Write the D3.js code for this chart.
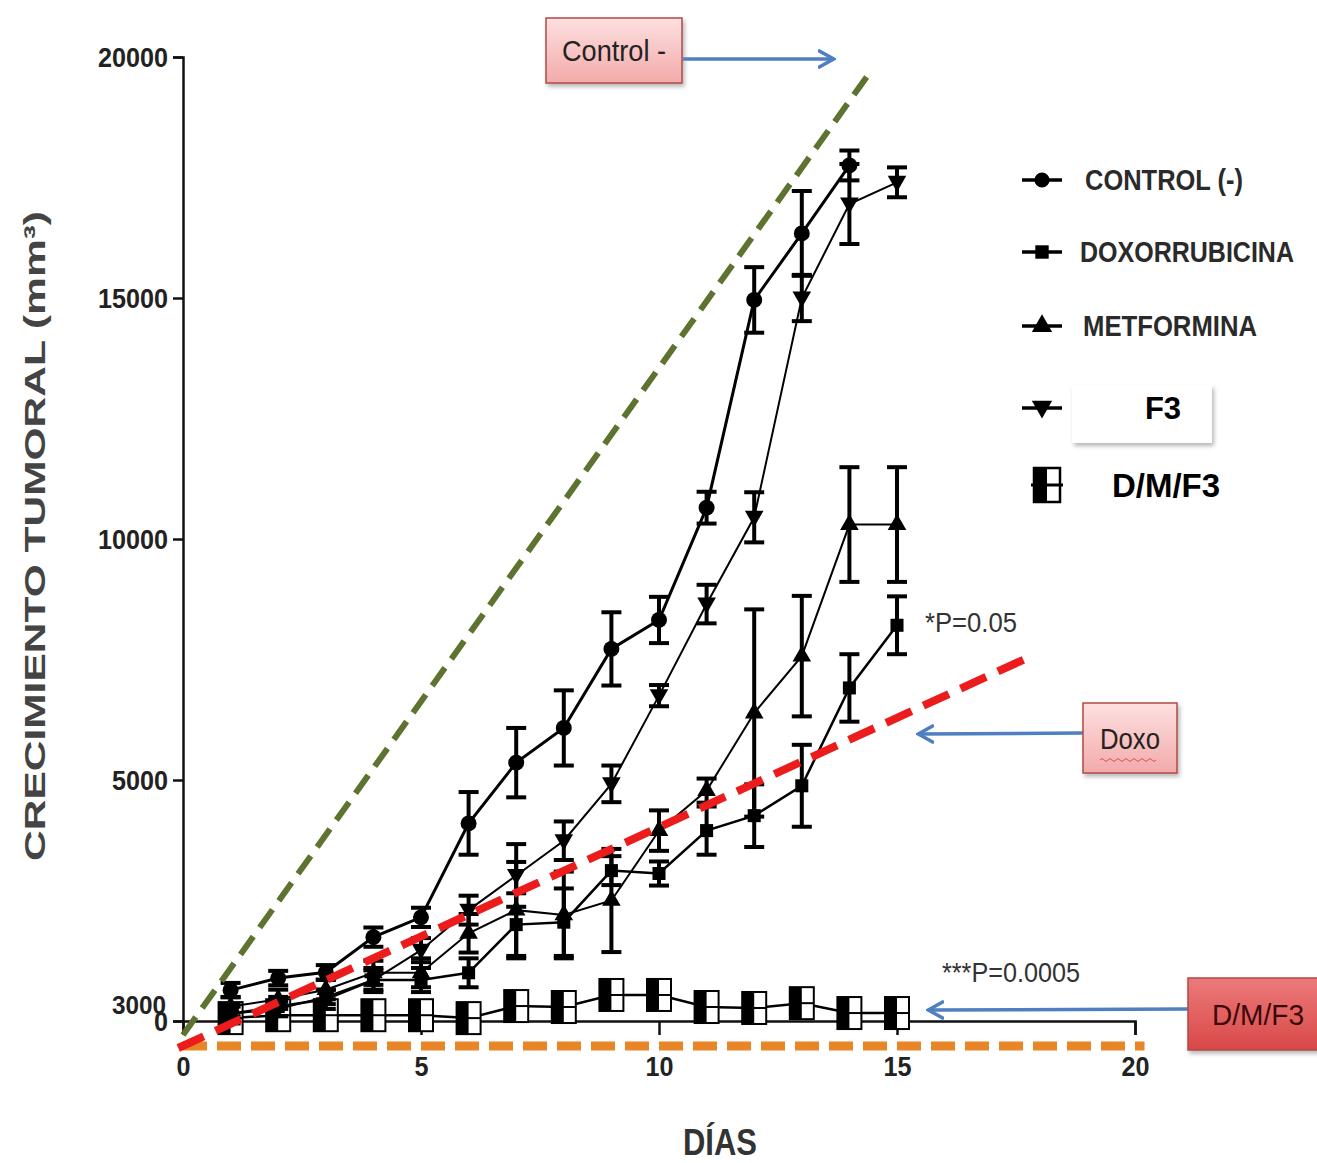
<!DOCTYPE html>
<html><head><meta charset="utf-8">
<script src="https://cdn.jsdelivr.net/npm/d3@7"></script>
<style>
body{margin:0;background:#fff;}
svg{display:block;}
.narrow{font-family:"Liberation Sans Narrow","Arial Narrow","Liberation Sans",sans-serif;font-weight:bold;}
</style></head>
<body>
<svg id="c" width="1317" height="1163"></svg>
<script>
// ---- data ----
const days = [1,2,3,4,5,6,7,8,9,10,11,12,13,14,15];
const controlDays = [1,2,3,4,5,6,7,8,9,10,11,12,13,14];
const control    = [640,890,1010,1740,2150,4100,5360,6080,7720,8320,10650,14960,16340,17750];
const controlErr = [150,150,150,200,200,650,720,780,760,480,330,680,880,310];
const doxo       = [150,300,450,850,850,1000,2000,2050,3120,3060,3950,4260,4880,6910,8210];
const doxoErr    = [200,200,200,250,250,300,650,700,300,250,500,650,850,700,600];
const metformina = [300,450,650,1000,1000,1820,2300,2200,2500,3950,4780,6390,7570,10300,10300];
const metErr     = [200,200,200,250,300,400,1000,900,1070,420,250,2150,1250,1190,1190];
const f3         = [150,250,500,850,1470,2300,3020,3740,4920,6750,8650,10450,15000,16950,17400];
const f3Err      = [150,150,150,200,250,300,650,400,380,220,400,520,480,830,310];
const dmf        = [60,120,120,120,120,60,310,290,540,540,290,270,370,165,165];
const xTicks = [0,5,10,15,20];
const yTicks = [0,5000,10000,15000,20000];
const legendLabels = ["CONTROL (-)","DOXORRUBICINA","METFORMINA","F3","D/M/F3"];
// reference trend lines [day, value]
const greenLine  = [[0,-290],[14.43,19680]];
const redLine    = [[-0.1,-560],[17.69,7510]];
const orangeLine = [[0,-520],[20.2,-520]];

const svg = d3.select("#c");
const x = d3.scaleLinear().domain([0,20]).range([183,1135]);
const y = d3.scaleLinear().domain([0,20000]).range([1021,57]);

// axes
const yAxis = svg.append("g").attr("transform","translate(183,0)")
  .call(d3.axisLeft(y).tickValues(yTicks).tickSize(10).tickPadding(5).tickFormat(d=>String(d)));
const xAxis = svg.append("g").attr("transform","translate(0,1021)")
  .call(d3.axisBottom(x).tickValues(xTicks).tickSize(14).tickPadding(21).tickFormat(d=>String(d)));
[yAxis,xAxis].forEach(g=>{
  g.select(".domain").attr("stroke","#111").attr("stroke-width",2.5);
  g.selectAll(".tick line").attr("stroke","#111").attr("stroke-width",2.5);
  g.selectAll(".tick text").attr("class","narrow").attr("fill","#222").style("font-size","28px")
    .attr("textLength",d=>String(d).length*14).attr("lengthAdjust","spacingAndGlyphs");
});
yAxis.selectAll(".tick text").attr("dy","0.35em");
// stray label near the origin
svg.append("text").attr("class","narrow").attr("x",166).attr("y",y(330)).attr("dy","0.35em")
  .attr("text-anchor","end").attr("fill","#222").style("font-size","26px")
  .attr("textLength",54).attr("lengthAdjust","spacingAndGlyphs").text("3000");

// series drawing helpers
const line = d3.line().x(d=>x(d[0])).y(d=>y(d[1]));
function errorBars(ds, vals, errs){
  const g = svg.append("g").attr("stroke","#000").attr("stroke-width",4);
  ds.forEach((d,i)=>{
    const xv=x(d), y1=y(vals[i]+errs[i]), y2=y(vals[i]-errs[i]);
    g.append("line").attr("x1",xv).attr("x2",xv).attr("y1",y1).attr("y2",y2);
    g.append("line").attr("x1",xv-10).attr("x2",xv+10).attr("y1",y1).attr("y2",y1);
    g.append("line").attr("x1",xv-10).attr("x2",xv+10).attr("y1",y2).attr("y2",y2);
  });
}
function series(ds, vals, errs, sym, size, lw){
  svg.append("path").datum(ds.map((d,i)=>[d,vals[i]])).attr("d",line)
    .attr("fill","none").attr("stroke","#000").attr("stroke-width",lw);
  if(errs) errorBars(ds,vals,errs);
  svg.append("g").selectAll("path").data(ds).join("path")
    .attr("transform",(d,i)=>`translate(${x(d)},${y(vals[i])})`)
    .attr("d",d3.symbol().type(sym).size(size)).attr("fill","#000");
}
const triDown = {draw(ctx,size){const s=Math.sqrt(size/ (Math.sqrt(3)/4));ctx.moveTo(-s/2,-s*0.35);ctx.lineTo(s/2,-s*0.35);ctx.lineTo(0,s*0.52);ctx.closePath();}};

// D/M/F3 series (half filled squares)
svg.append("path").datum(days.map((d,i)=>[d,dmf[i]])).attr("d",line)
  .attr("fill","none").attr("stroke","#000").attr("stroke-width",2.5);
const dm = svg.append("g").selectAll("g").data(days).join("g")
  .attr("transform",(d,i)=>`translate(${x(d)},${y(dmf[i])})`);
dm.append("rect").attr("x",-12).attr("y",-16).attr("width",24).attr("height",32)
  .attr("fill","#fff").attr("stroke","#000").attr("stroke-width",2);
dm.append("rect").attr("x",-12).attr("y",-16).attr("width",12).attr("height",32).attr("fill","#000");
dm.append("line").attr("x1",-12).attr("x2",12).attr("y1",0).attr("y2",0).attr("stroke","#000").attr("stroke-width",2);

series(days, doxo, doxoErr, d3.symbolSquare, 170, 2.5);
series(days, metformina, metErr, d3.symbolTriangle, 150, 2);
series(days, f3, f3Err, triDown, 150, 2);
series(controlDays, control, controlErr, d3.symbolCircle, 200, 3);

// dashed trend lines
function dashed(pts, color, w, dash){
  svg.append("path").datum(pts).attr("d",line).attr("fill","none")
    .attr("stroke",color).attr("stroke-width",w).attr("stroke-dasharray",dash);
}
dashed(orangeLine,"#e88526",9,"24,10");
dashed(greenLine,"#5e7330",6,"22,11");
dashed(redLine,"#ec1c1c",8,"28,13");

// annotation boxes & arrows
const defs = svg.append("defs");
function grad(id,c1,c2){const g=defs.append("linearGradient").attr("id",id).attr("x1",0).attr("y1",0).attr("x2",0).attr("y2",1);
  g.append("stop").attr("offset","0").attr("stop-color",c1);g.append("stop").attr("offset","1").attr("stop-color",c2);}
grad("pink","#fde0e0","#f3aaaa");
grad("red","#ec7a7a","#d94848");
const f = defs.append("filter").attr("id","sh").attr("x","-20%").attr("y","-20%").attr("width","150%").attr("height","150%");
f.append("feDropShadow").attr("dx",2).attr("dy",3).attr("stdDeviation",2).attr("flood-color","#888").attr("flood-opacity",0.6);
defs.append("marker").attr("id","ah").attr("viewBox","0 0 10 10").attr("refX",8).attr("refY",5)
  .attr("markerWidth",5).attr("markerHeight",6).attr("orient","auto-start-reverse")
  .append("path").attr("d","M0,0 L9,5 L0,10").attr("fill","none").attr("stroke","#4f7fc0").attr("stroke-width",2);

function arrow(x1,y1,x2,y2){
  svg.append("line").attr("x1",x1).attr("y1",y1).attr("x2",x2).attr("y2",y2)
    .attr("stroke","#4f7fc0").attr("stroke-width",3.5).attr("marker-end","url(#ah)");
}
function box(x0,y0,w,h,fill,txt,fs,col,tw){
  svg.append("rect").attr("x",x0).attr("y",y0).attr("width",w).attr("height",h)
    .attr("fill",fill).attr("stroke","#b04a48").attr("stroke-width",1.5).attr("filter","url(#sh)");
  svg.append("text").attr("class","narrow").attr("x",x0+w/2).attr("y",y0+h/2).attr("dy","0.35em")
    .attr("text-anchor","middle").attr("fill",col).style("font-size",fs+"px").style("font-weight","normal")
    .attr("textLength",tw).attr("lengthAdjust","spacingAndGlyphs").text(txt);
}
arrow(683,59,832,59);
box(546,18,136,65,"url(#pink)","Control -",30,"#222",104);
arrow(1083,733,920,734);
box(1083,703,94,70,"url(#pink)","Doxo",30,"#222",60);
svg.append("path").attr("d","M1100,760 q2,-3 4,0 t4,0 t4,0 t4,0 t4,0 t4,0 t4,0 t4,0 t4,0 t4,0 t4,0 t4,0 t4,0 t4,0")
  .attr("fill","none").attr("stroke","#e05050").attr("stroke-width",1);
arrow(1188,1009,930,1010);
box(1188,978,140,72,"url(#red)","D/M/F3",30,"#3a0808",92);

// p-values
svg.append("text").attr("class","narrow").attr("x",925).attr("y",632).attr("fill","#333")
  .style("font-size","27px").style("font-weight","normal")
  .attr("textLength",92).attr("lengthAdjust","spacingAndGlyphs").text("*P=0.05");
svg.append("text").attr("class","narrow").attr("x",942).attr("y",982).attr("fill","#333")
  .style("font-size","27px").style("font-weight","normal")
  .attr("textLength",138).attr("lengthAdjust","spacingAndGlyphs").text("***P=0.0005");

// legend
const legY = [180,252,326,408,485];
const legSyms = [d3.symbolCircle,d3.symbolSquare,d3.symbolTriangle,triDown];
legSyms.forEach((s,i)=>{
  svg.append("line").attr("x1",1022).attr("x2",1062).attr("y1",legY[i]).attr("y2",legY[i]).attr("stroke","#000").attr("stroke-width",3.5);
  svg.append("path").attr("transform",`translate(1042,${legY[i]})`).attr("d",d3.symbol().type(s).size(180)).attr("fill","#000");
});
{
  const g = svg.append("g").attr("transform",`translate(1047,${legY[4]})`);
  g.append("rect").attr("x",-13).attr("y",-17).attr("width",26).attr("height",34).attr("fill","#fff").attr("stroke","#000").attr("stroke-width",2.5);
  g.append("rect").attr("x",-13).attr("y",-17).attr("width",13).attr("height",34).attr("fill","#000");
  g.append("line").attr("x1",-16).attr("x2",16).attr("y1",0).attr("y2",0).attr("stroke","#000").attr("stroke-width",3);
}
const legX = [1085,1080,1083];
const legW = [158,214,174];
[0,1,2].forEach(i=>{
  svg.append("text").attr("class","narrow").attr("x",legX[i]).attr("y",legY[i]).attr("dy","0.36em")
    .attr("fill","#2a2a2a").style("font-size","29px").attr("textLength",legW[i]).attr("lengthAdjust","spacingAndGlyphs")
    .text(legendLabels[i]);
});
svg.append("rect").attr("x",1072).attr("y",385).attr("width",140).attr("height",58).attr("fill","#fff").attr("filter","url(#sh)");
svg.append("text").attr("x",1163).attr("y",legY[3]).attr("dy","0.36em").attr("text-anchor","middle")
  .style("font-family","'Liberation Sans',Arial,sans-serif").style("font-weight","bold").style("font-size","31px").attr("fill","#000").text(legendLabels[3]);
svg.append("text").attr("x",1166).attr("y",legY[4]).attr("dy","0.36em").attr("text-anchor","middle")
  .style("font-family","'Liberation Sans',Arial,sans-serif").style("font-weight","bold").style("font-size","33px").attr("fill","#000").text(legendLabels[4]);

// axis titles
svg.append("text").attr("transform","translate(45,536) rotate(-90)").attr("text-anchor","middle")
  .style("font-family","'Liberation Sans',Arial,sans-serif").style("font-weight","bold").style("font-size","29px")
  .attr("fill","#444").attr("textLength",650).attr("lengthAdjust","spacingAndGlyphs")
  .text("CRECIMIENTO TUMORAL (mm³)");
svg.append("text").attr("class","narrow").attr("x",720).attr("y",1155).attr("text-anchor","middle")
  .attr("fill","#333").style("font-size","36px").attr("textLength",74).attr("lengthAdjust","spacingAndGlyphs").text("DÍAS");
</script>
</body></html>
